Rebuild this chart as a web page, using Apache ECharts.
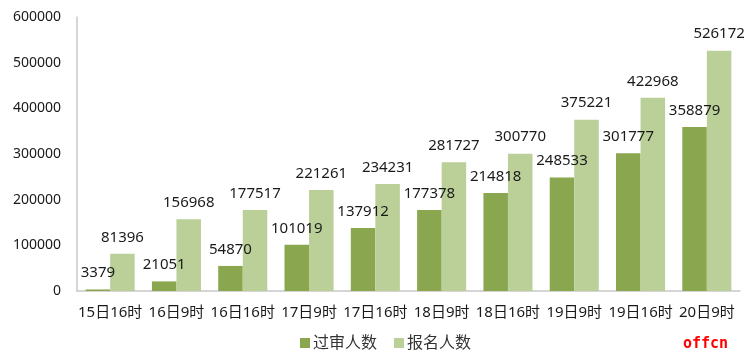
<!DOCTYPE html>
<html><head><meta charset="utf-8">
<script src="https://cdn.jsdelivr.net/npm/echarts@6/dist/echarts.min.js"></script>
<style>html,body{margin:0;padding:0;background:#fff}#c{width:749px;height:358px}</style>
</head><body><div id="c"></div>
<script>
const categories = ['15日16时','16日9时','16日16时','17日9时','17日16时','18日9时','18日16时','19日9时','19日16时','20日9时'];
const reviewed = [3379, 21051, 54870, 101019, 137912, 177378, 214818, 248533, 301777, 358879];
const registered = [81396, 156968, 177517, 221261, 234231, 281727, 300770, 375221, 422968, 526172];
const seriesNames = ['过审人数', '报名人数'];

const chart = echarts.init(document.getElementById('c'), null, {renderer: 'canvas'});
const fontFam = '"Noto Sans", "Noto Sans CJK SC", sans-serif';
const lbl = {show: true, position: 'top', distance: 9, color: '#1a1a1a', fontSize: 15, fontFamily: fontFam};
chart.setOption({
  animation: false,
  backgroundColor: '#fff',
  grid: {left: 77, right: 9, top: 17, bottom: 67},
  legend: {
    bottom: 2, left: 295, itemWidth: 10, itemHeight: 10, itemGap: 17,
    icon: 'rect',
    textStyle: {fontSize: 16, color: '#333', fontFamily: fontFam, padding: [0,0,0,-2]},
    data: seriesNames
  },
  xAxis: {
    type: 'category', data: categories,
    axisLine: {show: true, lineStyle: {color: '#c8c8c8', width: 1.5}},
    axisTick: {show: false},
    axisLabel: {color: '#1a1a1a', fontSize: 15, margin: 14, fontFamily: fontFam, interval: 0}
  },
  yAxis: {
    type: 'value', min: 0, max: 600000, interval: 100000,
    axisLine: {show: true, lineStyle: {color: '#c8c8c8', width: 1.5}},
    axisTick: {show: false},
    splitLine: {show: false},
    axisLabel: {color: '#1a1a1a', fontSize: 14, margin: 16, fontFamily: fontFam, formatter: v => String(v)}
  },
  series: [
    {name: seriesNames[0], type: 'bar', data: reviewed, barGap: '0%', barCategoryGap: '26%',
     itemStyle: {color: '#8aa64e'}, label: lbl},
    {name: seriesNames[1], type: 'bar', data: registered, barGap: '0%', barCategoryGap: '26%',
     itemStyle: {color: '#bbd098'}, label: lbl}
  ],
  graphic: [{
    type: 'text', left: 683, top: 337,
    style: {text: 'offcn', fill: '#ff0000', font: 'bold 15px "DejaVu Sans Mono", monospace'}
  }]
});
</script></body></html>
